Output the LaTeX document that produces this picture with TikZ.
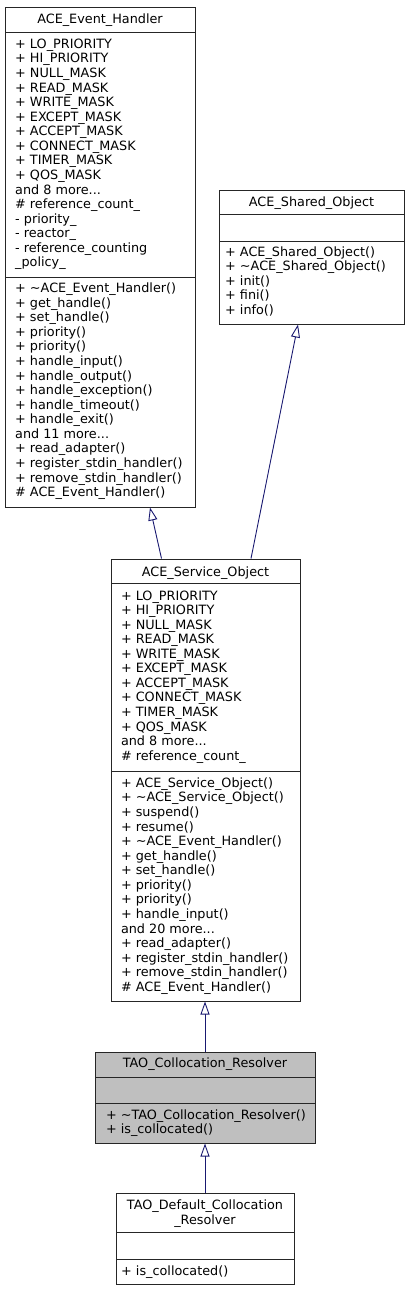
\documentclass[tikz,border=0pt]{standalone}
\usepackage{fontspec}
\setmainfont{DejaVu Sans}
\usetikzlibrary{arrows.meta}
\definecolor{edgeblue}{RGB}{25,25,112}
\definecolor{hlgray}{RGB}{191,191,191}
\newcommand{\mydots}{...}
\tikzset{
  umlbox/.style={draw=black!85, line width=1pt, inner sep=0pt, fill=white},
  hlbox/.style={umlbox, fill=hlgray},
  divider/.style={draw=black!85, line width=1pt},
  txt/.style={inner sep=0pt, anchor=base west, font=\fontsize{12.8}{14.57}\selectfont},
  ttl/.style={inner sep=0pt, anchor=base, font=\fontsize{12.8}{14.57}\selectfont},
  inherit/.style={draw=edgeblue, line width=0.9pt, -{Triangle[open, length=13pt, width=9pt, line width=0.9pt]}}
}
\newcommand{\umllines}[4]{%
  \foreach \t [count=\i from 0] in {#4} {
    \node[txt, name=#1-\i] at (#2, {#3+\i*14.57}) {\t};
  }%
}
\begin{document}
\begin{tikzpicture}[x=1pt,y=-1pt]
\useasboundingbox (0,0) rectangle (409,1291);

% ACE_Event_Handler
\node[umlbox, minimum width=190pt, minimum height=500pt] (eh) at (100,257) {};
\draw[divider] (5,32) -- (195,32);
\draw[divider] (5,277) -- (195,277);
\node[ttl] (eh-title) at (100,23.3) {ACE\_Event\_Handler};
\umllines{eha}{15}{48.3}{+ LO\_PRIORITY, + HI\_PRIORITY, + NULL\_MASK, + READ\_MASK, + WRITE\_MASK, + EXCEPT\_MASK, + ACCEPT\_MASK, + CONNECT\_MASK, + TIMER\_MASK, + QOS\_MASK, and 8 more\mydots, \# reference\_count\_, - priority\_, - reactor\_, - reference\_counting, \_policy\_}
\umllines{ehm}{15}{292.7}{+ \textasciitilde ACE\_Event\_Handler(), + get\_handle(), + set\_handle(), + priority(), + priority(), + handle\_input(), + handle\_output(), + handle\_exception(), + handle\_timeout(), + handle\_exit(), and 11 more\mydots, + read\_adapter(), + register\_stdin\_handler(), + remove\_stdin\_handler(), \# ACE\_Event\_Handler()}

% ACE_Shared_Object
\node[umlbox, minimum width=185pt, minimum height=134pt] (so) at (311.5,257) {};
\draw[divider] (219,214) -- (404,214);
\draw[divider] (219,241) -- (404,241);
\node[ttl] (so-title) at (311.5,206) {ACE\_Shared\_Object};
\umllines{som}{225}{256}{+ ACE\_Shared\_Object(), + \textasciitilde ACE\_Shared\_Object(), + init(), + fini(), + info()}

% ACE_Service_Object
\node[umlbox, minimum width=189pt, minimum height=442pt] (svc) at (205.5,780) {};
\draw[divider] (111,583) -- (300,583);
\draw[divider] (111,771) -- (300,771);
\node[ttl] (svc-title) at (205.5,576) {ACE\_Service\_Object};
\umllines{svca}{120.8}{600}{+ LO\_PRIORITY, + HI\_PRIORITY, + NULL\_MASK, + READ\_MASK, + WRITE\_MASK, + EXCEPT\_MASK, + ACCEPT\_MASK, + CONNECT\_MASK, + TIMER\_MASK, + QOS\_MASK, and 8 more\mydots, \# reference\_count\_}
\umllines{svcm}{120.8}{787.3}{+ ACE\_Service\_Object(), + \textasciitilde ACE\_Service\_Object(), + suspend(), + resume(), + \textasciitilde ACE\_Event\_Handler(), + get\_handle(), + set\_handle(), + priority(), + priority(), + handle\_input(), and 20 more\mydots, + read\_adapter(), + register\_stdin\_handler(), + remove\_stdin\_handler(), \# ACE\_Event\_Handler()}

% TAO_Collocation_Resolver
\node[hlbox, minimum width=220pt, minimum height=91pt] (tcr) at (205,1097.5) {};
\draw[divider] (95,1077) -- (315,1077);
\draw[divider] (95,1103) -- (315,1103);
\node[ttl] (tcr-title) at (205,1067.7) {TAO\_Collocation\_Resolver};
\umllines{tcrm}{105.8}{1119}{+ \textasciitilde TAO\_Collocation\_Resolver(), + is\_collocated()}

% TAO_Default_Collocation_Resolver
\node[umlbox, minimum width=178pt, minimum height=91pt] (tdc) at (205,1238.7) {};
\draw[divider] (116,1232.5) -- (294,1232.5);
\draw[divider] (116,1259) -- (294,1259);
\node[ttl] (tdc-title1) at (205,1209.3) {TAO\_Default\_Collocation};
\node[ttl] (tdc-title2) at (205,1224) {\_Resolver};
\umllines{tdcm}{121}{1275.5}{+ is\_collocated()}

% inheritance connectors
\draw[inherit] ([xshift=-44pt]svc.north) -- ([xshift=50pt]eh.south);
\draw[inherit] ([xshift=45.5pt]svc.north) -- ([xshift=-13.5pt]so.south);
\draw[inherit] (tcr.north) -- (tcr.north |- svc.south);
\draw[inherit] (tdc.north) -- (tdc.north |- tcr.south);
\end{tikzpicture}
\end{document}
